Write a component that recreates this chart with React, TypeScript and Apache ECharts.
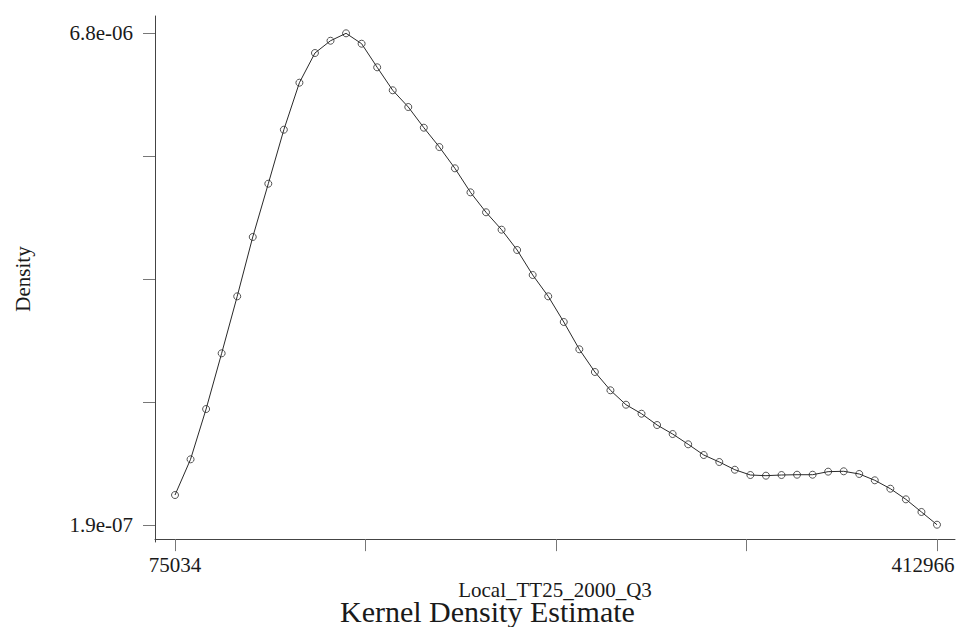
import React, { useEffect, useRef } from "react";
import * as echarts from "echarts";

const xValues = [
  75034, 81931, 88827, 95724, 102620, 109517, 116413, 123310, 130207, 137103,
  144000, 150896, 157793, 164689, 171586, 178483, 185379, 192276, 199172, 206069,
  212965, 219862, 226759, 233655, 240552, 247448, 254345, 261241, 268138, 275035,
  281931, 288828, 295724, 302621, 309517, 316414, 323311, 330207, 337104, 344000,
  350897, 357793, 364690, 371587, 378483, 385380, 392276, 399173, 406069, 412966,
];

const densityValues = [
  5.93e-7, 1.073e-6, 1.749e-6, 2.498e-6, 3.264e-6, 4.062e-6, 4.778e-6, 5.504e-6, 6.136e-6, 6.535e-6,
  6.7e-6, 6.8e-6, 6.66e-6, 6.343e-6, 6.034e-6, 5.809e-6, 5.531e-6, 5.271e-6, 4.985e-6, 4.662e-6,
  4.394e-6, 4.16e-6, 3.887e-6, 3.551e-6, 3.264e-6, 2.919e-6, 2.552e-6, 2.247e-6, 2.001e-6, 1.807e-6,
  1.686e-6, 1.534e-6, 1.413e-6, 1.275e-6, 1.131e-6, 1.037e-6, 9.33e-7, 8.62e-7, 8.53e-7, 8.62e-7,
  8.66e-7, 8.66e-7, 9.07e-7, 9.12e-7, 8.76e-7, 7.91e-7, 6.78e-7, 5.35e-7, 3.65e-7, 1.94e-7,
];

const xTickValues = [75034, 159517, 244000, 328483, 412966];
const xLabelValues = [75034, 412966];
const xTickLabels = ["75034", "412966"];

const yTickValues = [1.9e-7, 1.8425e-6, 3.495e-6, 5.1475e-6, 6.8e-6];
const yLabelValues = [1.9e-7, 6.8e-6];
const yTickLabels = ["1.9e-07", "6.8e-06"];

const xAxisName = "Local_TT25_2000_Q3";
const yAxisName = "Density";
const chartTitle = "Kernel Density Estimate";

const FONT = "Liberation Serif, Times New Roman, serif";

export default function App() {
  const ref = useRef<HTMLDivElement>(null);

  useEffect(() => {
    if (!ref.current) return;
    const chart = echarts.init(ref.current, undefined, { renderer: "svg" });
    const findIdx = (vals: number[], v: number) => {
      let best = -1;
      let bd = Infinity;
      vals.forEach((t, i) => {
        const d = Math.abs(t - v);
        if (d < bd) {
          bd = d;
          best = i;
        }
      });
      return bd <= Math.abs(vals[best]) * 1e-3 + 1e-12 ? best : -1;
    };
    chart.setOption({
      animation: false,
      backgroundColor: "#ffffff",
      title: {
        text: chartTitle,
        left: 340,
        top: 596,
        textStyle: {
          fontFamily: FONT,
          fontSize: 30,
          fontWeight: "normal",
          color: "#1a1a1a",
        },
        padding: 0,
      },
      grid: {
        left: 155,
        right: 3,
        top: 16,
        bottom: 85,
        containLabel: false,
        outerBoundsMode: "none",
      },
      xAxis: {
        type: "value",
        min: 66164,
        max: 420949,
        name: xAxisName,
        nameLocation: "middle",
        nameGap: 33,
        nameTextStyle: { fontFamily: FONT, fontSize: 21, color: "#1a1a1a" },
        axisLine: { show: true, lineStyle: { color: "#444", width: 1 } },
        axisTick: {
          show: true,
          length: 12,
          customValues: xTickValues,
          lineStyle: { color: "#777", width: 1 },
        },
        axisLabel: {
          show: true,
          margin: 12,
          customValues: xLabelValues,
          formatter: (v: number) => {
            const i = findIdx(xLabelValues, v);
            if (i < 0) return "";
            return i === xLabelValues.length - 1 ? "{r|" + xTickLabels[i] + "}" : xTickLabels[i];
          },
          fontFamily: FONT,
          fontSize: 21,
          color: "#1a1a1a",
          rich: {
            r: {
              fontFamily: FONT,
              fontSize: 21,
              color: "#1a1a1a",
              padding: [0, 28, 0, 0],
            },
          },
        },
        splitLine: { show: false },
      },
      yAxis: {
        type: "value",
        min: -3.85e-8,
        max: 7.0326e-6,
        name: yAxisName,
        nameLocation: "middle",
        nameGap: 122,
        nameTextStyle: { fontFamily: FONT, fontSize: 21, color: "#1a1a1a" },
        axisLine: { show: true, lineStyle: { color: "#444", width: 1 } },
        axisTick: {
          show: true,
          length: 12,
          customValues: yTickValues,
          lineStyle: { color: "#777", width: 1 },
        },
        axisLabel: {
          show: true,
          margin: 22,
          customValues: yLabelValues,
          formatter: (v: number) => {
            const i = findIdx(yLabelValues, v);
            return i < 0 ? "" : yTickLabels[i];
          },
          fontFamily: FONT,
          fontSize: 21,
          color: "#1a1a1a",
        },
        splitLine: { show: false },
      },
      series: [
        {
          type: "line",
          data: xValues.map((x, i) => [x, densityValues[i]]),
          symbol: "circle",
          symbolSize: 7,
          showAllSymbol: true,
          lineStyle: { color: "#2a2a2a", width: 1 },
          itemStyle: { color: "rgba(0,0,0,0)", borderColor: "#2a2a2a", borderWidth: 0.8 },
        },
      ],
    });
    return () => chart.dispose();
  }, []);

  return (
    <div
      ref={ref}
      style={{ position: "fixed", left: 0, top: 0, width: 958, height: 627, background: "#fff" }}
    />
  );
}
